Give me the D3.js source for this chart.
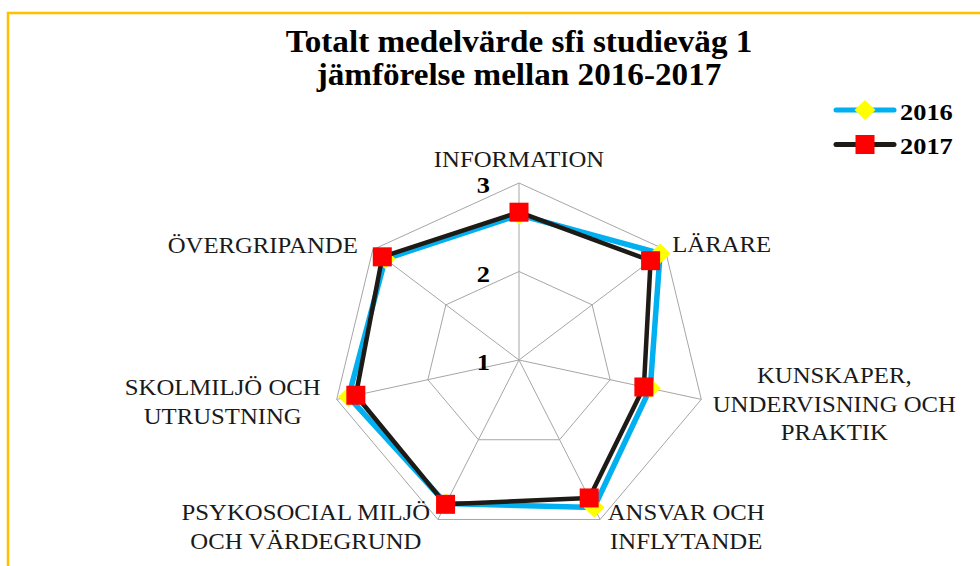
<!DOCTYPE html>
<html>
<head>
<meta charset="utf-8">
<script src="https://cdn.jsdelivr.net/npm/d3@7"></script>
<style>
  html, body { margin: 0; padding: 0; background: #fff; }
  svg text { font-family: "Liberation Serif", "Times New Roman", serif; fill: #1a1a1a; }
</style>
</head>
<body>
<svg id="chart" width="980" height="566"></svg>
<script>
// data
const categories = [
  'INFORMATION',
  'LÄRARE',
  'KUNSKAPER, UNDERVISNING OCH PRAKTIK',
  'ANSVAR OCH INFLYTANDE',
  'PSYKOSOCIAL MILJÖ OCH VÄRDEGRUND',
  'SKOLMILJÖ OCH UTRUSTNING',
  'ÖVERGRIPANDE'
];
const categoryLines = [
  ['INFORMATION'],
  ['LÄRARE'],
  ['KUNSKAPER,', 'UNDERVISNING OCH', 'PRAKTIK'],
  ['ANSVAR OCH', 'INFLYTANDE'],
  ['PSYKOSOCIAL MILJÖ', 'OCH VÄRDEGRUND'],
  ['SKOLMILJÖ OCH', 'UTRUSTNING'],
  ['ÖVERGRIPANDE']
];
const values2016 = [2.64, 2.93, 2.44, 2.85, 2.80, 2.87, 2.83];
const values2017 = [2.67, 2.80, 2.37, 2.73, 2.81, 2.79, 2.87];
const seriesNames = ['2016', '2017'];
const tickValues = [1, 2, 3];

const svg = d3.select('#chart');
const cx = 519, cy = 360;
const rx = 187, ry = 177;
const textStretch = 1.1;

const r = d3.scaleLinear().domain([1, 3]).range([0, 1]);
const angle = d3.scaleLinear().domain([0, categories.length]).range([0, 2 * Math.PI]);

function px(i, v) { return cx + rx * r(v) * Math.sin(angle(i)); }
function py(i, v) { return cy - ry * r(v) * Math.cos(angle(i)); }

// frame
svg.append('rect')
  .attr('x', 8).attr('y', 13)
  .attr('width', 1000).attr('height', 600)
  .attr('fill', '#fff')
  .attr('stroke', '#FFC000')
  .attr('stroke-width', 2.5);

// title
const title = svg.append('g');
['Totalt medelvärde sfi studieväg 1', 'jämförelse mellan 2016-2017'].forEach((t, k) => {
  title.append('text')
    .attr('transform', `translate(519,${52 + k * 33}) scale(1.07,1)`)
    .attr('text-anchor', 'middle')
    .attr('font-size', 31)
    .attr('font-weight', 'bold')
    .style('fill', '#000')
    .text(t);
});

// grid
const grid = svg.append('g')
  .attr('fill', 'none')
  .attr('stroke', '#a6a6a6')
  .attr('stroke-width', 1);

const ring = d3.line().curve(d3.curveLinearClosed);
tickValues.slice(1).forEach(t => {
  grid.append('path')
    .attr('d', ring(categories.map((c, i) => [px(i, t), py(i, t)])));
});
categories.forEach((c, i) => {
  grid.append('line')
    .attr('x1', px(i, 1)).attr('y1', py(i, 1))
    .attr('x2', px(i, 3)).attr('y2', py(i, 3));
});

// tick labels
svg.append('g').selectAll('text')
  .data(tickValues)
  .join('text')
    .attr('transform', d => `translate(${cx - 29},${py(0, d) + 10}) scale(${textStretch},1)`)
    .attr('text-anchor', 'end')
    .attr('font-size', 24)
    .attr('font-weight', 'bold')
    .style('fill', '#000')
    .text(d => d);

// category labels: offsets from the outer vertex
const labelLayout = [
  { dx: 0, dy: -16, anchor: 'middle' },
  { dx: 7, dy: 2, anchor: 'start' },
  { dx: 133, dy: -16, anchor: 'middle' },
  { dx: 86, dy: 1, anchor: 'middle' },
  { dx: -132, dy: 1, anchor: 'middle' },
  { dx: -114, dy: -4, anchor: 'middle' },
  { dx: -15, dy: 3, anchor: 'end' }
];
const lineGap = 28.5;
categoryLines.forEach((lines, i) => {
  const L = labelLayout[i];
  lines.forEach((t, k) => {
    svg.append('text')
      .attr('transform', `translate(${px(i, 3) + L.dx},${py(i, 3) + L.dy + k * lineGap}) scale(${textStretch},1)`)
      .attr('text-anchor', L.anchor)
      .attr('font-size', 22.5)
      .text(t);
  });
});

// series
const series = [
  { name: seriesNames[0], values: values2016, line: '#00B0F0', width: 5.5, marker: 'diamond', fill: '#FFFF00' },
  { name: seriesNames[1], values: values2017, line: '#1e1b16', width: 4.5, marker: 'square', fill: '#FF0000' }
];

function drawMarker(g, type, x, y, fill) {
  if (type === 'diamond') {
    g.append('path')
      .attr('d', `M${x},${y - 10}L${x + 10.5},${y}L${x},${y + 10}L${x - 10.5},${y}Z`)
      .attr('fill', fill);
  } else {
    g.append('rect')
      .attr('x', x - 9.5).attr('y', y - 9.5)
      .attr('width', 19).attr('height', 19)
      .attr('fill', fill);
  }
}

series.forEach(s => {
  const g = svg.append('g');
  const pts = s.values.map((v, i) => [px(i, v), py(i, v)]);
  g.append('path')
    .attr('d', ring(pts))
    .attr('fill', 'none')
    .attr('stroke', s.line)
    .attr('stroke-width', s.width)
    .attr('stroke-linejoin', 'round');
  pts.forEach(p => drawMarker(g, s.marker, p[0], p[1], s.fill));
});

// legend
series.forEach((s, k) => {
  const y = 110 + k * 34.5;
  const g = svg.append('g');
  g.append('line')
    .attr('x1', 836).attr('x2', 894)
    .attr('y1', y).attr('y2', y)
    .attr('stroke', s.line)
    .attr('stroke-width', 5)
    .attr('stroke-linecap', 'round');
  drawMarker(g, s.marker, 865, y, s.fill);
  g.append('text')
    .attr('transform', `translate(900,${y + 9.5}) scale(${textStretch},1)`)
    .attr('font-size', 24)
    .attr('font-weight', 'bold')
    .style('fill', '#000')
    .text(s.name);
});
</script>
</body>
</html>
